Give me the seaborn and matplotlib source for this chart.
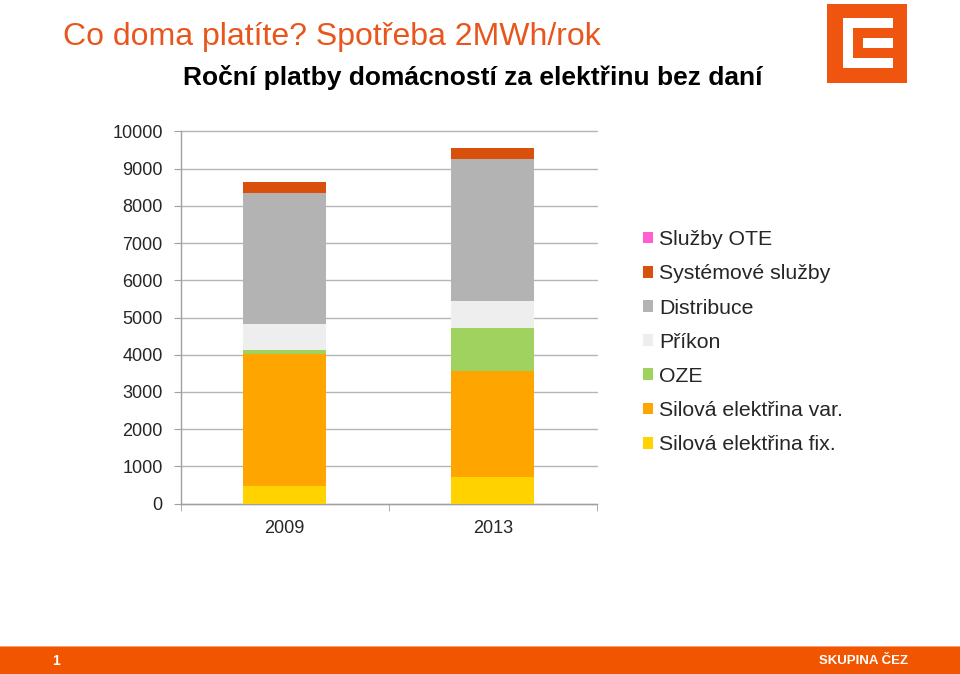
import matplotlib
matplotlib.use("Agg")
import matplotlib.pyplot as plt
from matplotlib.patches import Patch, Rectangle
import pandas as pd
import seaborn as sns

# data (CZK / year)
years = ["2009", "2013"]
components = ["Silová elektřina fix.", "Silová elektřina var.", "OZE", "Příkon",
              "Distribuce", "Systémové služby", "Služby OTE"]
fix_power = [470, 710]
var_power = [3560, 2850]
oze = [90, 1165]
prikon = [700, 725]
distribuce = [3540, 3815]
system_services = [285, 290]
ote = [5, 5]

colors = ["#FFD200", "#FFA500", "#A0D25F", "#EEEEEE", "#B3B3B3", "#D9500C", "#FF5FD0"]

series = [fix_power, var_power, oze, prikon, distribuce, system_services, ote]
df = pd.DataFrame({name: vals for name, vals in zip(components, series)}, index=years)
cum = df.cumsum(axis=1)

sns.set_style("white")
plt.rcParams["font.family"] = ["Liberation Sans", "DejaVu Sans"]

fig = plt.figure(figsize=(9.6, 6.74), dpi=100)
ax = fig.add_axes([180.7 / 960, 1 - 503.5 / 674, (596.7 - 180.7) / 960, (503.5 - 131.5) / 674])

# stacked bars: draw cumulative totals from the top layer down
for name, col in reversed(list(zip(components, colors))):
    sns.barplot(x=years, y=cum[name].values, color=col, width=0.4, ax=ax,
                saturation=1, zorder=3, edgecolor="none", linewidth=0)

ax.set_xlim(-0.5, 1.5)
ax.set_ylim(0, 10000)
ax.set_yticks(range(0, 10001, 1000))
ax.yaxis.grid(True, color="#B5B5B5", linewidth=1.0, zorder=0)
for gl in ax.get_ygridlines():
    gl.set_clip_on(False)
ax.set_axisbelow(True)
for s in ["top", "right"]:
    ax.spines[s].set_visible(False)
for s in ["left", "bottom"]:
    ax.spines[s].set_color("#A0A0A0")
    ax.spines[s].set_linewidth(1.0)
ax.tick_params(axis="y", labelsize=13, length=5, color="#A0A0A0", pad=8, left=True)
ax.tick_params(axis="x", labelsize=13, length=0, pad=12)
ax.set_xticks([0, 1])
ax.set_xticklabels(years)
# category separator ticks
ax.set_xticks([-0.5, 0.5, 1.5], minor=True)
ax.tick_params(axis="x", which="minor", length=5, color="#A0A0A0", bottom=True)

# legend
handles = [Patch(facecolor=c, edgecolor="none") for c in colors]
leg = fig.legend(handles[::-1], components[::-1], loc="upper left",
                 bbox_to_anchor=(624 / 960, 1 - 211 / 674), frameon=False,
                 fontsize=15.3, handlelength=0.47, handleheight=0.47,
                 handletextpad=0.3, labelspacing=0.715)

# titles
fig.text(63 / 960, 1 - 37 / 674, "Co doma platíte? Spotřeba 2MWh/rok",
         color="#E8561E", fontsize=23, va="center", ha="left")
fig.text(473 / 960, 1 - 78 / 674, "Roční platby domácností za elektřinu bez daní",
         color="black", fontsize=19, fontweight="bold", va="center", ha="center",
         family=["Liberation Sans Narrow", "Liberation Sans", "DejaVu Sans"])

# logo
orange = "#F0550F"
fig.patches.append(Rectangle((827 / 960, 1 - 83 / 674), 80 / 960, 79 / 674,
                             transform=fig.transFigure, facecolor=orange, edgecolor="none"))
fig.patches.append(Rectangle((843 / 960, 1 - 68.3 / 674), 50 / 960, 50 / 674,
                             transform=fig.transFigure, facecolor="white", edgecolor="none"))
fig.patches.append(Rectangle((853 / 960, 1 - 58.3 / 674), 40 / 960, 30 / 674,
                             transform=fig.transFigure, facecolor=orange, edgecolor="none"))
fig.patches.append(Rectangle((863 / 960, 1 - 48.3 / 674), 30 / 960, 10.5 / 674,
                             transform=fig.transFigure, facecolor="white", edgecolor="none"))

# footer band
fig.patches.append(Rectangle((0, 0), 1, 27 / 674, transform=fig.transFigure,
                             facecolor="#F25500", edgecolor="none"))
fig.patches.append(Rectangle((0, 27 / 674), 1, 1.5 / 674, transform=fig.transFigure,
                             facecolor="#F8A070", edgecolor="none"))
fig.text(56 / 960, 13 / 674, "1", color="white", fontsize=10, fontweight="bold",
         ha="center", va="center")
fig.text(908 / 960, 13 / 674, "SKUPINA ČEZ", color="white", fontsize=9.5,
         fontweight="bold", ha="right", va="center")

fig.savefig("out.png", dpi=100, facecolor="white")
